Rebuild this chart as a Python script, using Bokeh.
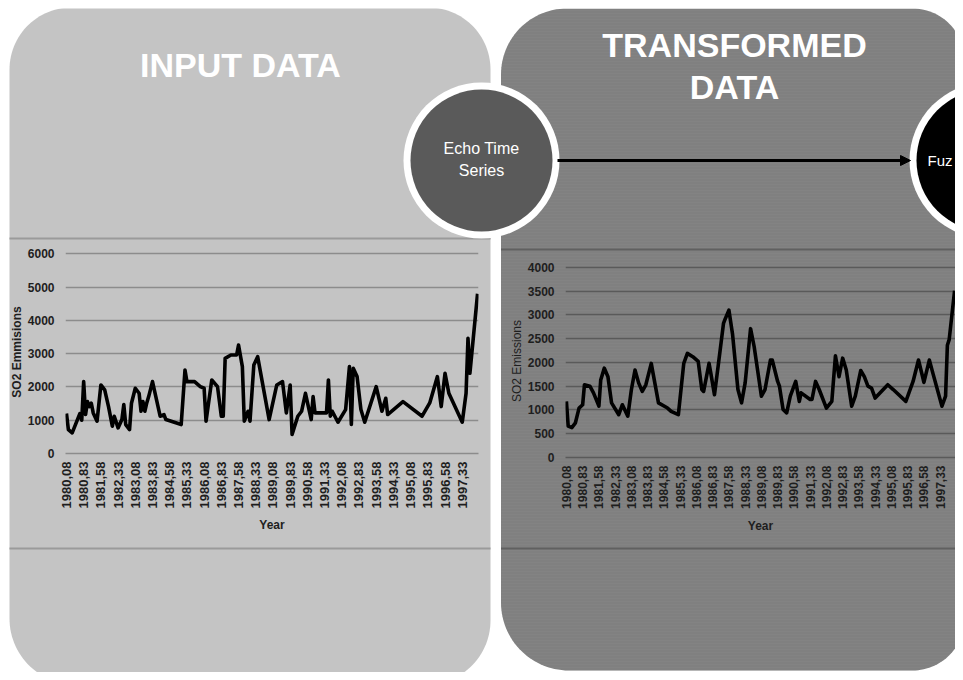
import numpy as np
from bokeh.plotting import figure
from bokeh.models import Range1d, FixedTicker, Arrow, NormalHead
from bokeh.embed import file_html
from bokeh.resources import INLINE
from bokeh.core.properties import value

# ---------------- data ----------------
TICK_LABELS = ["1980,08", "1980,83", "1981,58", "1982,33", "1983,08", "1983,83",
               "1984,58", "1985,33", "1986,08", "1986,83", "1987,58", "1988,33",
               "1989,08", "1989,83", "1990,58", "1991,33", "1992,08", "1992,83",
               "1993,58", "1994,33", "1995,08", "1995,83", "1996,58", "1997,33"]
LABEL_STEP = 9          # months between two category labels
N_MONTHS = 216          # Jan 1980 .. Dec 1997

# input data (month index, SO2 emissions) - vertices
INPUT_MONTH = [0, 1, 3, 7, 8, 9, 10, 11, 12, 13, 14, 16, 18, 20, 22, 24, 25, 27, 29, 30,
               31, 33, 34, 36, 38, 39, 40, 41, 42, 43, 45, 49, 51, 52, 60, 62, 63, 67, 70, 72,
               73, 76, 79, 81, 82, 83, 86, 89, 90, 92, 93, 95, 96, 98, 100, 106, 110, 113, 115, 117,
               118, 121, 123, 125, 128, 129, 130, 136, 137, 138, 139, 142, 146, 148, 149, 150, 152, 154, 156, 162,
               165, 167, 168, 176, 186, 190, 194, 196, 198, 200, 207, 209, 210, 211, 215]
INPUT_SO2 = [1200, 720, 620, 1200, 1000, 2160, 1170, 1560, 1410, 1510, 1220, 970, 2060, 1910, 1410, 820, 1120, 770, 1020, 1470,
             870, 720, 1510, 1960, 1810, 1270, 1560, 1270, 1520, 1710, 2160, 1120, 1170, 1020, 870, 2510, 2160, 2160, 2010, 1960,
             970, 2210, 2010, 1120, 1120, 2860, 2960, 2960, 3260, 2610, 970, 1270, 970, 2660, 2910, 1020, 2060, 2160, 1220, 2060,
             570, 1120, 1270, 1810, 1020, 1710, 1220, 1220, 2210, 1120, 1270, 940, 1320, 2610, 870, 2560, 2310, 1320, 940, 2010,
             1270, 1660, 1170, 1560, 1120, 1520, 2310, 1410, 2410, 1810, 940, 1810, 3460, 2410, 4800]

# transformed data (month index, SO2 emissions)
TRANS_MONTH = [0, 1, 3, 5, 7, 9, 10, 13, 15, 18, 19, 21, 23, 25, 29, 31, 34, 36, 38, 40,
               42, 44, 47, 48, 51, 56, 58, 62, 65, 67, 70, 73, 75, 76, 79, 80, 82, 84, 87, 88,
               90, 92, 95, 97, 99, 102, 104, 108, 110, 113, 114, 117, 118, 120, 122, 124, 127, 129, 130, 135,
               136, 138, 140, 144, 147, 149, 151, 153, 155, 158, 160, 163, 165, 167, 169, 171, 178, 181, 188, 192,
               195, 197, 198, 201, 203, 208, 210, 211, 212, 215]
TRANS_SO2 = [1180, 660, 630, 730, 1040, 1110, 1530, 1500, 1360, 1080, 1630, 1880, 1700, 1150, 900, 1110, 870, 1430, 1840, 1570,
             1390, 1530, 1980, 1770, 1150, 1040, 970, 900, 1980, 2190, 2120, 2020, 1430, 1390, 1980, 1770, 1320, 1910, 2820, 2920,
             3100, 2600, 1430, 1150, 1570, 2710, 2330, 1290, 1430, 2050, 2050, 1600, 1500, 1010, 940, 1290, 1600, 1180, 1360, 1220,
             1220, 1600, 1430, 1040, 1180, 2140, 1700, 2090, 1840, 1080, 1290, 1830, 1700, 1500, 1460, 1250, 1530, 1430, 1180, 1600,
             2050, 1740, 1580, 2050, 1770, 1080, 1290, 2360, 2480, 3510]

FONT = "Liberation Sans"

# ---------------- background diagram ----------------
W, H = 947, 664
bg = figure(width=W, height=H, x_range=Range1d(8, 8 + W), y_range=Range1d(8 + H, 8),
            x_axis_type=None, y_axis_type=None,
            output_backend="svg", toolbar_location=None, min_border=0,
            outline_line_color=None, background_fill_color="white", border_fill_color="white",
            styles={"position": "absolute", "left": "8px", "top": "8px"})
bg.grid.visible = False


def rounded(x0, x1, y0, y1, rtl, rtr, rbr, rbl, n=30):
    xs, ys = [], []

    def arc(cx, cy, r, a0, a1):
        t = np.linspace(a0, a1, n)
        xs.extend(cx + r * np.cos(t))
        ys.extend(cy + r * np.sin(t))
    arc(x0 + rtl, y0 + rtl, rtl, np.pi, 1.5 * np.pi)
    arc(x1 - rtr, y0 + rtr, rtr, 1.5 * np.pi, 2 * np.pi)
    arc(x1 - rbr, y1 - rbr, rbr, 0, 0.5 * np.pi)
    arc(x0 + rbl, y1 - rbl, rbl, 0.5 * np.pi, np.pi)
    return xs, ys


lx, ly = rounded(9, 490, 7, 684, 62, 62, 64, 66)
bg.patch(lx, ly, fill_color="#c4c4c4", line_color=None)
rx, ry = rounded(500.5, 964, 8, 670, 66, 52, 52, 68)
bg.patch(rx, ry, fill_color="#808080", line_color=None,
         hatch_pattern="horizontal_line", hatch_color="#8a8a8a", hatch_scale=3,
         hatch_weight=1, hatch_alpha=0.3)

bg.segment(x0=[9, 9], y0=[238, 548], x1=[490, 490], y1=[238, 548], line_color="#9a9a9a", line_width=2)
bg.segment(x0=[500.5, 500.5], y0=[249, 548], x1=[964, 964], y1=[249, 548], line_color="#606060", line_width=2)

# circles
bg.circle(x=[481, 987], y=[160, 160], radius=78, fill_color="white", line_color=None)
bg.circle(x=[481], y=[160], radius=71, fill_color="#5a5a5a", line_color=None)
bg.circle(x=[987], y=[160], radius=71, fill_color="black", line_color=None)

bg.add_layout(Arrow(x_start=557, y_start=160, x_end=910, y_end=160, line_width=3, line_color="black",
                    end=NormalHead(size=10, fill_color="black", line_color="black")))

bg.text(x=[240, 734, 734], y=[64, 44, 86], text=["INPUT DATA", "TRANSFORMED", "DATA"],
        text_font=value(FONT), text_font_style="bold", text_font_size="34px",
        text_color="white", text_align="center", text_baseline="middle")
bg.text(x=[481, 481], y=[148, 170], text=["Echo Time", "Series"],
        text_font=value(FONT), text_font_size="16px", text_color="white",
        text_align="center", text_baseline="middle")
bg.text(x=[927], y=[160], text=["Fuz"], text_font=value(FONT), text_font_size="15px",
        text_color="white", text_align="left", text_baseline="middle")


# ---------------- charts ----------------
def make_chart(months, vals, ytop, ystep, yend, ylabel, ylabel_style, grid_color,
               left, top, width, height, mbl, mbt, mbb, mbr, xfs, yfs, lfs):
    p = figure(width=width, height=height, x_range=Range1d(-0.5, N_MONTHS - 0.5),
               y_range=Range1d(0, yend), output_backend="svg", toolbar_location=None,
               min_border_left=mbl, min_border_top=mbt, min_border_bottom=mbb, min_border_right=mbr,
               background_fill_alpha=0, border_fill_alpha=0, outline_line_color=None,
               styles={"position": "absolute", "left": f"{left}px", "top": f"{top}px"})
    p.line(months, vals, line_color="black", line_width=3.6, line_join="round")
    p.xgrid.visible = False
    p.ygrid.grid_line_color = grid_color
    p.ygrid.grid_line_width = 1.6
    p.yaxis.ticker = FixedTicker(ticks=list(range(0, ytop + 1, ystep)))
    p.xaxis.ticker = FixedTicker(ticks=[i * LABEL_STEP for i in range(len(TICK_LABELS))])
    p.xaxis.major_label_overrides = {i * LABEL_STEP: lab for i, lab in enumerate(TICK_LABELS)}
    p.xaxis.major_label_orientation = np.pi / 2
    for ax in p.axis:
        ax.major_tick_line_color = None
        ax.minor_tick_line_color = None
        ax.major_tick_out = 0
        ax.major_tick_in = 0
        ax.minor_tick_out = 0
        ax.minor_tick_in = 0
        ax.major_label_text_font = FONT
        ax.major_label_text_font_style = "bold"
        ax.major_label_text_color = "#1e1e1e"
        ax.axis_label_text_font = FONT
        ax.axis_label_text_color = "#1e1e1e"
    p.yaxis.axis_line_color = None
    p.xaxis.axis_line_color = grid_color
    p.xaxis.axis_line_width = 1.6
    p.xaxis.major_label_text_font_size = xfs
    p.yaxis.major_label_text_font_size = yfs
    p.yaxis.major_label_standoff = 11
    p.xaxis.major_label_standoff = 8
    p.yaxis.axis_label = ylabel
    p.yaxis.axis_label_text_font_style = ylabel_style
    p.yaxis.axis_label_text_font_size = lfs
    p.yaxis.axis_label_standoff = 1
    p.xaxis.axis_label = "Year"
    p.xaxis.axis_label_text_font_style = "bold"
    p.xaxis.axis_label_text_font_size = lfs
    p.xaxis.axis_label_standoff = 7
    return p


left_chart = make_chart(INPUT_MONTH, INPUT_SO2, 6000, 1000, 6100, "SO2 Emmisions", "bold", "#8c8c8c",
                        left=6, top=243, width=479, height=292, mbl=57, mbt=7, mbb=81, mbr=7,
                        xfs="13px", yfs="12px", lfs="12px")
right_chart = make_chart(TRANS_MONTH, TRANS_SO2, 4000, 500, 4060, "SO2 Emissions", "normal", "#5a5a5a",
                         left=500, top=255, width=455, height=280, mbl=65, mbt=9, mbb=77, mbr=0,
                         xfs="12px", yfs="12px", lfs="12px")

open("out.html", "w").write(file_html([bg, left_chart, right_chart], INLINE))
